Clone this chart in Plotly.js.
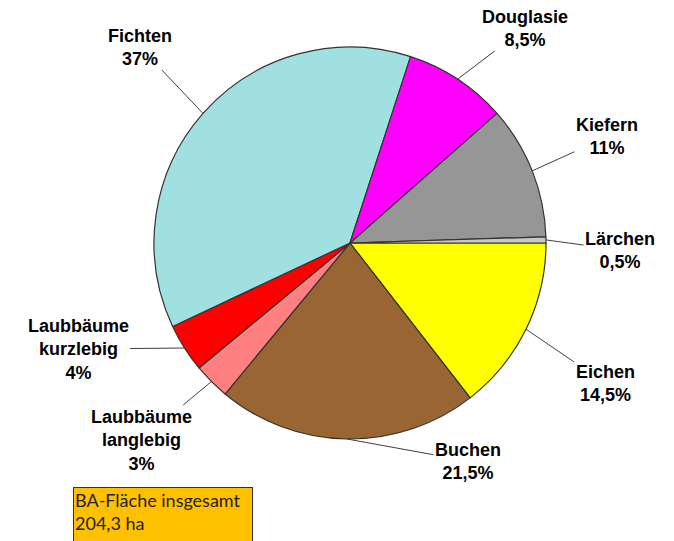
<!DOCTYPE html>
<html>
<head>
<meta charset="utf-8">
<script src="https://cdn.plot.ly/plotly-3.0.1.min.js"></script>
<style>html,body{margin:0;padding:0;background:#fff;}#chart{width:674px;height:541px;}</style>
</head>
<body>
<div id="chart"></div>
<script>
// Data
const labels = ["Eichen", "Buchen", "Laubbäume<br>langlebig", "Laubbäume<br>kurzlebig", "Fichten", "Douglasie", "Kiefern", "Lärchen"];
const values = [14.5, 21.5, 3, 4, 37, 8.5, 11, 0.5];
const valueText = ["14,5%", "21,5%", "3%", "4%", "37%", "8,5%", "11%", "0,5%"];
const colors = ["#FFFF00", "#996633", "#FF8080", "#FF0000", "#A0E0E0", "#FF00FF", "#969696", "#C8C8C8"];

// Layout constants (pixels)
const W = 674, H = 541;
const CX = 350, CY = 243, R = 196;
const ROT = 90;
// label text centres (pixels), per slice
const labelPos = [[605, 383], [468, 461], [141, 440], [78, 349], [140, 47], [525, 28], [607, 137], [620, 250]];

const domX = [(CX - R) / W, (CX + R) / W];
const domY = [1 - (CY + R) / H, 1 - (CY - R) / H];

const total = values.reduce((a, b) => a + b, 0);
let cum = 0;
const annotations = [];
values.forEach((v, i) => {
  const mid = (ROT + 360 * (cum + v / 2) / total) * Math.PI / 180;
  cum += v;
  const tipX = CX + R * Math.sin(mid);
  const tipY = CY - R * Math.cos(mid);
  annotations.push({
    xref: "paper", yref: "paper",
    x: tipX / W, y: 1 - tipY / H,
    axref: "pixel", ayref: "pixel",
    ax: labelPos[i][0] - tipX, ay: labelPos[i][1] - tipY,
    text: "<b>" + labels[i] + "<br>" + valueText[i] + "</b>",
    showarrow: true, arrowhead: 0, arrowwidth: 1, arrowcolor: "#404040", standoff: 0,
    font: {family: "Liberation Sans, Arial, sans-serif", size: 18, color: "#000"},
    align: "center"
  });
});

annotations.push({
  xref: "paper", yref: "paper",
  x: 73 / W, y: 1 - 487 / H, xanchor: "left", yanchor: "top",
  showarrow: false,
  text: "BA-Fläche insgesamt<br>204,3 ha",
  align: "left", valign: "top",
  width: 176, height: 62,
  bgcolor: "#FFC000", bordercolor: "#333333", borderwidth: 1, borderpad: 1,
  font: {family: "Lato, Open Sans, sans-serif", size: 18, color: "#222"}
});

const data = [{
  type: "pie",
  labels: labels,
  values: values,
  sort: false,
  direction: "clockwise",
  rotation: ROT,
  marker: {colors: colors, line: {color: "#333333", width: 1.2}},
  textinfo: "none",
  hoverinfo: "label+percent",
  domain: {x: domX, y: domY},
  showlegend: false
}];

const layout = {
  width: W, height: H,
  margin: {l: 0, r: 0, t: 0, b: 0},
  paper_bgcolor: "#fff",
  showlegend: false,
  annotations: annotations
};

Plotly.newPlot("chart", data, layout, {displayModeBar: false, staticPlot: true});
</script>
</body>
</html>
